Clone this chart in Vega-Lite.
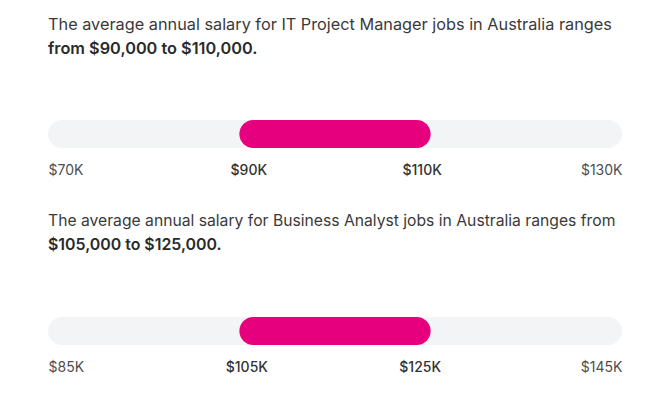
{
  "$schema": "https://vega.github.io/schema/vega-lite/v6.json",
  "background": "white",
  "padding": {"left": 48, "top": 17, "right": 30, "bottom": 5},
  "config": {
    "view": {"stroke": null},
    "font": "Inter",
    "concat": {"spacing": 36},
    "title": {
      "anchor": "start",
      "frame": "group",
      "fontSize": 16.3,
      "fontWeight": "normal",
      "color": "#3a3a3a",
      "subtitleFontSize": 16.3,
      "subtitleFontWeight": 600,
      "subtitleColor": "#2a2a2a",
      "subtitlePadding": 7,
      "offset": 63
    },
    "axis": {
      "domain": false,
      "ticks": false,
      "grid": false,
      "title": null,
      "labelFontSize": 14,
      "labelColor": "#4f4f4f",
      "labelPadding": 15,
      "labelFlush": true
    }
  },
  "vconcat": [
    {
      "width": 574,
      "height": 28,
      "title": {
        "text": "The average annual salary for IT Project Manager jobs in Australia ranges",
        "subtitle": "from $90,000 to $110,000."
      },
      "data": {"values": [{"job": "IT Project Manager", "scale_min": 70000, "scale_max": 130000, "low": 90000, "high": 110000}]},
      "layer": [
        {
          "mark": {"type": "rect", "color": "#f3f4f6", "cornerRadius": 14},
          "encoding": {
            "x": {
              "field": "scale_min",
              "type": "quantitative",
              "scale": {"domain": [70000, 130000], "nice": false, "zero": false},
              "axis": {
                "values": [70000, 90000, 110000, 130000],
                "labelExpr": "'$' + datum.value / 1000 + 'K'",
                "labelFontWeight": {"expr": "datum.value == 90000 || datum.value == 110000 ? 500 : 400"},
                "labelColor": {"expr": "datum.value == 90000 || datum.value == 110000 ? '#333333' : '#4f4f4f'"},
                "labelOffset": {"expr": "datum.value == 90000 ? 9 : datum.value == 110000 ? -9 : 0"}
              }
            },
            "x2": {"field": "scale_max"}
          }
        },
        {
          "mark": {"type": "rect", "color": "#e6007e", "cornerRadius": 14},
          "encoding": {
            "x": {"field": "low", "type": "quantitative"},
            "x2": {"field": "high"}
          }
        }
      ]
    },
    {
      "width": 574,
      "height": 28,
      "title": {
        "text": "The average annual salary for Business Analyst jobs in Australia ranges from",
        "subtitle": "$105,000 to $125,000.",
        "fontSize": 15.7,
        "subtitleFontSize": 15.9
      },
      "data": {"values": [{"job": "Business Analyst", "scale_min": 85000, "scale_max": 145000, "low": 105000, "high": 125000}]},
      "layer": [
        {
          "mark": {"type": "rect", "color": "#f3f4f6", "cornerRadius": 14},
          "encoding": {
            "x": {
              "field": "scale_min",
              "type": "quantitative",
              "scale": {"domain": [85000, 145000], "nice": false, "zero": false},
              "axis": {
                "values": [85000, 105000, 125000, 145000],
                "labelExpr": "'$' + datum.value / 1000 + 'K'",
                "labelFontWeight": {"expr": "datum.value == 105000 || datum.value == 125000 ? 500 : 400"},
                "labelColor": {"expr": "datum.value == 105000 || datum.value == 125000 ? '#333333' : '#4f4f4f'"},
                "labelOffset": {"expr": "datum.value == 105000 ? 7 : datum.value == 125000 ? -11 : 0"}
              }
            },
            "x2": {"field": "scale_max"}
          }
        },
        {
          "mark": {"type": "rect", "color": "#e6007e", "cornerRadius": 14},
          "encoding": {
            "x": {"field": "low", "type": "quantitative"},
            "x2": {"field": "high"}
          }
        }
      ]
    }
  ]
}
